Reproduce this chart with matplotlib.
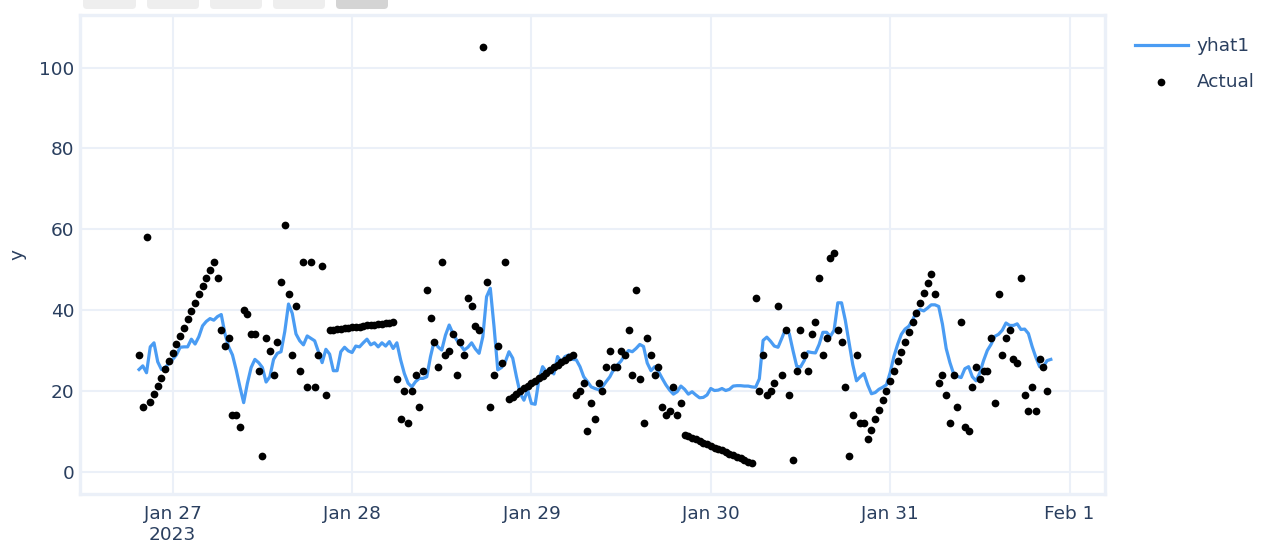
import numpy as np
import pandas as pd
import matplotlib
matplotlib.use("Agg")
import matplotlib.pyplot as plt
from matplotlib.patches import FancyBboxPatch
from matplotlib.transforms import IdentityTransform

# ---------------------------------------------------------------- data
start_time = "2023-01-26 19:30"
step = "30min"

actual = [
    29, 16, 58, 17.2, 19.2, 21.3, 23.3, 25.4, 27.4, 29.5, 31.5, 33.6, 35.6, 37.7,
    39.7, 41.8, 43.9, 45.9, 48.0, 50.0, 52.0,
    48, 35, 31, 33, 14, 14, 11, 40, 39, 34, 34, 25, 4, 33, 30, 24, 32, 47, 61, 44,
    29, 41, 25, 52, 21, 52, 21, 29, 51, 19,
    35.0, 35.1, 35.2, 35.4, 35.5, 35.6, 35.7, 35.8, 35.9, 36.1, 36.2, 36.3, 36.4,
    36.5, 36.6, 36.8, 36.9, 37.0,
    23, 13, 20, 12, 20, 24, 16, 25, 45, 38, 32, 26, 52, 29, 30, 34, 24, 32, 29, 43,
    41, 36, 35, 105, 47, 16, 24, 31, 27, 52,
    18.0, 18.6, 19.3, 19.9, 20.6, 21.2, 21.9, 22.5, 23.2, 23.8, 24.5, 25.1, 25.8,
    26.4, 27.1, 27.7, 28.4, 29.0,
    19, 20, 22, 10, 17, 13, 22, 20, 26, 30, 26, 26, 30, 29, 35, 24, 45, 23, 12, 33,
    29, 24, 26, 16, 14, 15, 21, 14, 17,
    9.2, 8.8, 8.4, 8.0, 7.6, 7.2, 6.8, 6.4, 6.0, 5.6, 5.3, 4.9, 4.5, 4.1, 3.7, 3.3,
    2.9, 2.5, 2.1,
    43, 20, 29, 19, 20, 22, 41, 24, 35, 19, 3, 25, 35, 29, 25, 34, 37, 48, 29, 33,
    53, 54, 35, 32, 21, 4, 14, 29, 12, 12,
    8.1, 10.4, 13.0, 15.3, 17.7, 20.0, 22.5, 25.0, 27.3, 29.7, 32.2, 34.7, 37.1,
    39.4, 41.8, 44.2, 46.6, 49.0,
    44, 22, 24, 19, 12, 24, 16, 37, 11, 10, 21, 26, 23, 25, 25, 33, 17, 44, 29, 33,
    35, 28, 27, 48, 19, 15, 21, 15, 28, 26, 20,
]

yhat1 = [
    25.3, 26.2, 24.5, 30.9, 31.9, 27.2, 25.3, 25.8, 26.8, 27.8, 28.9, 30.8, 30.9,
    30.9, 32.8, 31.6, 33.4, 36.1, 37.2, 37.9, 37.5, 38.4, 38.9, 34.1, 30.9, 28.9,
    25.2, 21.0, 17.1, 21.9, 25.8, 27.8, 27.0, 25.8, 22.2, 23.5, 27.8, 29.3, 29.7,
    34.7, 41.5, 39.2, 34.1, 32.4, 31.4, 33.6, 33.0, 32.4, 29.7, 27.0, 30.3, 29.1,
    25.0, 25.0, 29.7, 30.8, 29.9, 29.5, 31.1, 30.9, 31.9,
    32.8, 31.4, 31.9, 30.9, 31.9, 31.1, 32.2, 30.5, 31.9, 27.7, 24.3, 21.9, 21.0,
    22.3, 23.1, 23.1, 23.5, 28.5, 32.4, 30.9, 30.1, 33.8, 36.3, 34.2, 32.6, 31.4,
    30.1, 30.8, 31.9, 30.4, 29.3, 33.4, 43.3, 45.4, 35.9, 25.2, 25.8, 27.2, 29.7,
    28.1, 23.5, 19.4, 17.7, 20.2, 16.9, 16.7, 22.7, 26.0, 24.7, 25.2, 24.2, 28.5,
    27.2, 28.5, 28.9, 27.8, 27.7, 26.0, 23.5, 22.3, 21.0,
    20.6, 20.3, 21.0, 22.3, 23.5, 25.3, 26.4, 27.4, 28.9, 30.0, 29.7, 30.5, 31.5,
    31.0, 26.9, 25.0, 26.0, 24.8, 23.1, 21.5, 20.2, 19.2, 19.8, 21.2, 20.4, 19.2,
    19.8, 19.0, 18.3, 18.4, 19.0, 20.6, 20.1, 20.2, 20.6, 20.1, 20.4, 21.2, 21.3,
    21.3, 21.2, 21.2, 21.0, 20.9,
    23.0, 32.5, 33.3, 32.3, 31.1, 30.8, 33.0, 35.3, 34.2, 30.0, 26.1, 25.9, 27.5,
    29.7, 29.5, 29.4, 31.5, 34.5, 34.5, 33.5, 35.0, 41.8, 41.8, 37.5, 32.0, 26.5,
    22.5, 23.5, 24.3, 21.5, 19.3, 19.6, 20.4, 20.9, 21.5, 24.5, 28.5, 31.5, 34.0,
    35.3, 36.0, 37.5, 39.6, 40.1, 39.8, 40.5, 41.3, 41.3, 40.9, 36.5, 30.5, 27.0,
    24.2, 23.6, 23.3, 25.5, 26.0, 23.5, 22.5, 24.5, 27.5, 30.0, 31.5, 33.5, 34.0,
    35.0, 36.8, 36.2, 36.2, 36.6, 35.2, 35.3, 34.2, 31.0, 28.3, 26.0, 26.0, 27.5,
    27.8,
]

y_ticks = [0, 20, 40, 60, 80, 100]
x_tick_dates = ["2023-01-27", "2023-01-28", "2023-01-29", "2023-01-30",
                "2023-01-31", "2023-02-01"]
x_tick_labels = ["Jan 27\n2023", "Jan 28", "Jan 29", "Jan 30", "Jan 31", "Feb 1"]

# ---------------------------------------------------------------- style
W, H, DPI = 1261, 544, 100
FONT = ["DejaVu Sans"]
FS = 13.3
TEXT = "#2a3f5f"
GRID = "#ebf0f8"
BLUE = "#4a9cf3"
plt.rcParams["font.family"] = FONT

ds = pd.date_range(start_time, periods=len(yhat1), freq=step)

fig = plt.figure(figsize=(W / DPI, H / DPI), dpi=DPI)
fig.patch.set_facecolor("white")
ax = fig.add_axes([80 / W, (H - 494) / H, (1105 - 80) / W, (494 - 15) / H])

ax.plot(ds, yhat1, color=BLUE, lw=2.3, label="yhat1", zorder=3,
        solid_joinstyle="round")
ax.scatter(ds[:len(actual)], actual, s=31, color="black", linewidths=0,
           label="Actual", zorder=4)

ax.set_xlim(pd.Timestamp("2023-01-26 11:36"), pd.Timestamp("2023-02-01 04:45"))
ax.set_ylim(-5.5, 113)

ax.set_yticks(y_ticks)
ax.set_yticklabels([str(v) for v in y_ticks])
ax.set_xticks(pd.to_datetime(x_tick_dates))
ax.set_xticklabels(x_tick_labels, linespacing=1.2)

ax.grid(True, color=GRID, lw=1.5)
ax.set_axisbelow(True)
for sp in ax.spines.values():
    sp.set_color(GRID)
    sp.set_linewidth(2.4)
ax.tick_params(axis="both", length=0, labelsize=FS, labelcolor=TEXT)
ax.tick_params(axis="y", pad=4)
ax.tick_params(axis="x", pad=8)

ax.set_ylabel("y", fontsize=FS, color=TEXT)
ax.yaxis.set_label_coords(-0.052, 0.5)

leg = ax.legend(loc="upper left", bbox_to_anchor=(1135 / W, 1 - 37 / H),
                bbox_transform=fig.transFigure, frameon=False, borderpad=0,
                borderaxespad=0, handlelength=2.85, handletextpad=0.5,
                labelspacing=0.95, fontsize=FS, labelcolor=TEXT)

# range-selector buttons along the top edge
for (x0, x1), fc in zip([(83, 136), (147, 199), (210, 262), (273, 325), (336, 388)],
                        ["#eeeeee", "#eeeeee", "#eeeeee", "#eeeeee", "#d4d4d4"]):
    btn = FancyBboxPatch((x0, H - 9), x1 - x0, 40,
                         boxstyle="round,pad=0,rounding_size=4",
                         fc=fc, ec="none", transform=IdentityTransform())
    fig.add_artist(btn)

fig.savefig("out.png", dpi=DPI, facecolor="white")
